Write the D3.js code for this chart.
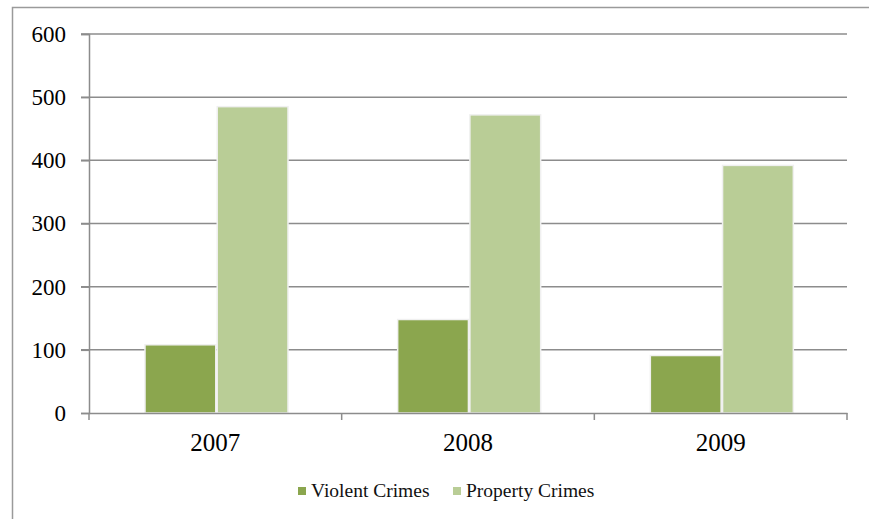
<!DOCTYPE html>
<html><head><meta charset="utf-8">
<script src="https://cdn.jsdelivr.net/npm/d3@7"></script>
<style>body{margin:0;background:#fff}svg{display:block}</style>
</head><body><svg id="c" width="869" height="519"></svg>
<script>
const categories = ["2007","2008","2009"];
const seriesNames = ["Violent Crimes","Property Crimes"];
const violent = [108, 148, 91];
const property = [485, 472, 392];
const yTicks = [0,100,200,300,400,500,600];
const colors = ["#8ba64e","#b9cd96"];

const svg = d3.select("#c");
const L = 89, R = 847, T = 34, B = 413;
const font = "'Liberation Serif', 'DejaVu Serif', serif";

svg.append("rect").attr("x",12.5).attr("y",7.5).attr("width",900).attr("height",600)
  .attr("fill","none").attr("stroke","#9a9a9a").attr("stroke-width",1.5);

const x = d3.scaleBand().domain(categories).range([L,R]);
const xs = d3.scaleBand().domain(seriesNames).range([56, 199]).paddingInner(0.02);
const y = d3.scaleLinear().domain([0,600]).range([B,T]);

// gridlines
svg.append("g").selectAll("line").data(yTicks.filter(d=>d>0)).join("line")
  .attr("x1",L-8).attr("x2",R).attr("y1",d=>y(d)).attr("y2",d=>y(d))
  .attr("stroke","#8c8c8c").attr("stroke-width",1.5);

// y axis
const ya = svg.append("g").attr("transform",`translate(${L},0)`)
  .call(d3.axisLeft(y).tickValues(yTicks).tickSize(8).tickPadding(15));
ya.select(".domain").attr("stroke","#8c8c8c").attr("stroke-width",1.5);
ya.selectAll(".tick line").attr("stroke","#8c8c8c").attr("stroke-width",1.5);
ya.selectAll("text").attr("font-family",font).attr("font-size",23).attr("fill","#000");

// bars
const data = categories.map((c,i)=>({cat:c, vals:[violent[i], property[i]]}));
const g = svg.append("g");
data.forEach(d=>{
  d.vals.forEach((v,j)=>{
    g.append("rect")
      .attr("x", x(d.cat)+xs(seriesNames[j]))
      .attr("y", y(v))
      .attr("width", xs.bandwidth())
      .attr("height", y(0)-y(v))
      .attr("fill", colors[j])
      .attr("stroke","#f0f0f0").attr("stroke-width",1.5);
  });
});

// x axis
const xa = svg.append("g").attr("transform",`translate(0,${B})`)
  .call(d3.axisBottom(x).tickSize(0).tickPadding(20));
xa.select(".domain").attr("stroke","#8c8c8c").attr("stroke-width",1.5);
xa.selectAll("text").attr("font-family",font).attr("font-size",25).attr("fill","#000");
svg.append("g").selectAll("line").data(categories.concat(["end"])).join("line")
  .attr("x1",(d,i)=> i<3 ? x(d) : R).attr("x2",(d,i)=> i<3 ? x(d) : R)
  .attr("y1",B).attr("y2",B+7).attr("stroke","#8c8c8c").attr("stroke-width",1.5);

// legend
const legX = [298, 453];
const leg = svg.append("g");
seriesNames.forEach((s,i)=>{
  leg.append("rect").attr("x",legX[i]).attr("y",487).attr("width",8).attr("height",8).attr("fill",colors[i]);
  leg.append("text").attr("x",legX[i]+13).attr("y",497).text(s)
    .attr("font-family",font).attr("font-size",19.5).attr("fill","#111");
});
</script></body></html>
